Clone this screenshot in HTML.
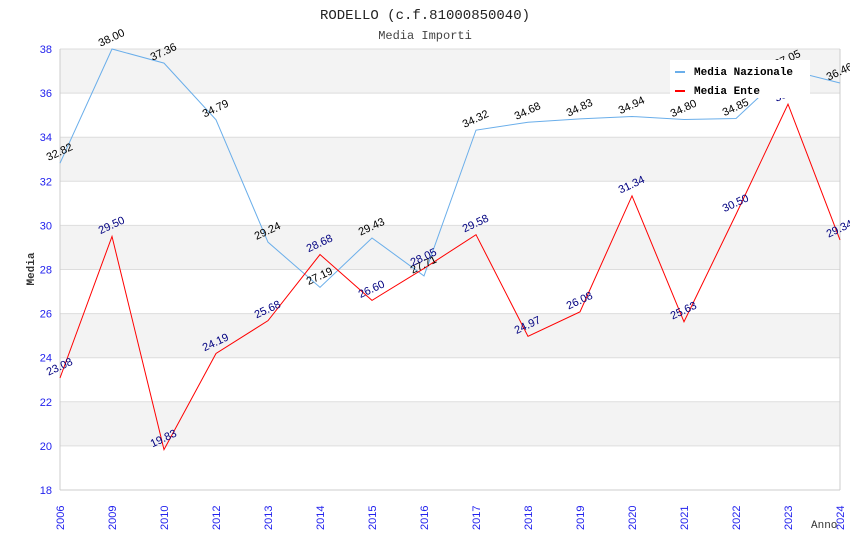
<!DOCTYPE html>
<html><head><meta charset="utf-8"><style>
body{margin:0;background:#fff;}
svg{display:block;}
</style></head><body>
<svg id="chart" width="850" height="550" xmlns="http://www.w3.org/2000/svg">
<text x="425" y="19" text-anchor="middle" font-family="Liberation Mono, monospace" font-size="14" fill="#222">RODELLO (c.f.81000850040)</text>
<text x="425" y="39" text-anchor="middle" font-family="Liberation Mono, monospace" font-size="12" fill="#444">Media Importi</text>
<g id="bands"></g><g id="grid"></g><g id="axes"></g><g id="series"></g><g id="labels"></g>
<text x="34" y="269" transform="rotate(-90 34 269)" text-anchor="middle" font-family="Liberation Mono, monospace" font-size="11" font-weight="bold" fill="#333">Media</text>
<text x="811" y="528" font-family="Liberation Mono, monospace" font-size="11" fill="#333">Anno</text>
<g>
<rect x="670" y="60" width="140" height="38" fill="#fff"/>
<rect x="675" y="71" width="10" height="2" fill="#6aaeea"/>
<text x="694" y="75" font-family="Liberation Mono, monospace" font-size="11" font-weight="bold" fill="#000">Media Nazionale</text>
<rect x="675" y="90" width="10" height="2" fill="#f00"/>
<text x="694" y="94" font-family="Liberation Mono, monospace" font-size="11" font-weight="bold" fill="#000">Media Ente</text>
</g>
</svg>
<script>
const categories=["2006","2009","2010","2012","2013","2014","2015","2016","2017","2018","2019","2020","2021","2022","2023","2024"];
const nazionale=[32.82,38.00,37.36,34.79,29.24,27.19,29.43,27.71,34.32,34.68,34.83,34.94,34.80,34.85,37.05,36.46];
const ente=[23.08,29.50,19.83,24.19,25.68,28.68,26.60,28.05,29.58,24.97,26.08,31.34,25.63,30.50,35.50,29.34];
const yTicks=[18,20,22,24,26,28,30,32,34,36,38];
const NS="http://www.w3.org/2000/svg";
const L=60,R=840,T=49,B=490,ymin=18,ymax=38;
const x=i=>L+i*(R-L)/(categories.length-1);
const y=v=>B-(v-ymin)/(ymax-ymin)*(B-T);
function mk(tag,attrs,parent){const e=document.createElementNS(NS,tag);for(const k in attrs)e.setAttribute(k,attrs[k]);document.getElementById(parent).insertBefore(e,null);return e;}
for(let i=0;i<yTicks.length-1;i++){
  if(i%2===1){const r=mk('rect',{x:L,y:y(yTicks[i+1]),width:R-L,height:y(yTicks[i])-y(yTicks[i+1]),fill:'#f3f3f3'},'bands');
  
  }
}
yTicks.forEach(v=>{
  const g=mk('line',{x1:L,x2:R,y1:y(v),y2:y(v),stroke:'#ddd'},'grid');
  
  
  const t=mk('text',{x:L-8,y:y(v)+4,'text-anchor':'end','font-family':'Liberation Sans, sans-serif','font-size':'11',fill:'#2222ee'},'axes');
  t.textContent=v;
  
  
});
const ax=mk('line',{x1:L,x2:L,y1:T,y2:B,stroke:'#ccc'},'axes');


const ax2=mk('line',{x1:R,x2:R,y1:T,y2:B,stroke:'#ccc'},'axes');


const ax3=mk('line',{x1:L,x2:R,y1:B,y2:B,stroke:'#ccc'},'axes');


categories.forEach((c,i)=>{
  const t=mk('text',{x:x(i)+4,y:530,transform:`rotate(-90 ${x(i)+4} 530)`,'font-family':'Liberation Sans, sans-serif','font-size':'11',fill:'#2222ee'},'axes');
  t.textContent=c;
  
  
});
function series(data,color,lblColor,name){
  const p=mk('polyline',{points:data.map((v,i)=>x(i)+','+y(v)).join(' '),fill:'none',stroke:color,'stroke-width':'1'},'series');
  
  
  data.forEach((v,i)=>{
    const px=x(i)+1,py=y(v)-8;
    const t=mk('text',{x:px,y:py,transform:`rotate(-25 ${px} ${py})`,'text-anchor':'middle','font-family':'Liberation Sans, sans-serif','font-size':'11',fill:lblColor},'labels');
    t.textContent=v.toFixed(2);
    
    
  });
}
series(nazionale,'#6aaeea','#000','nazionale');
series(ente,'#f00','#000080','ente');
</script>
</body></html>
